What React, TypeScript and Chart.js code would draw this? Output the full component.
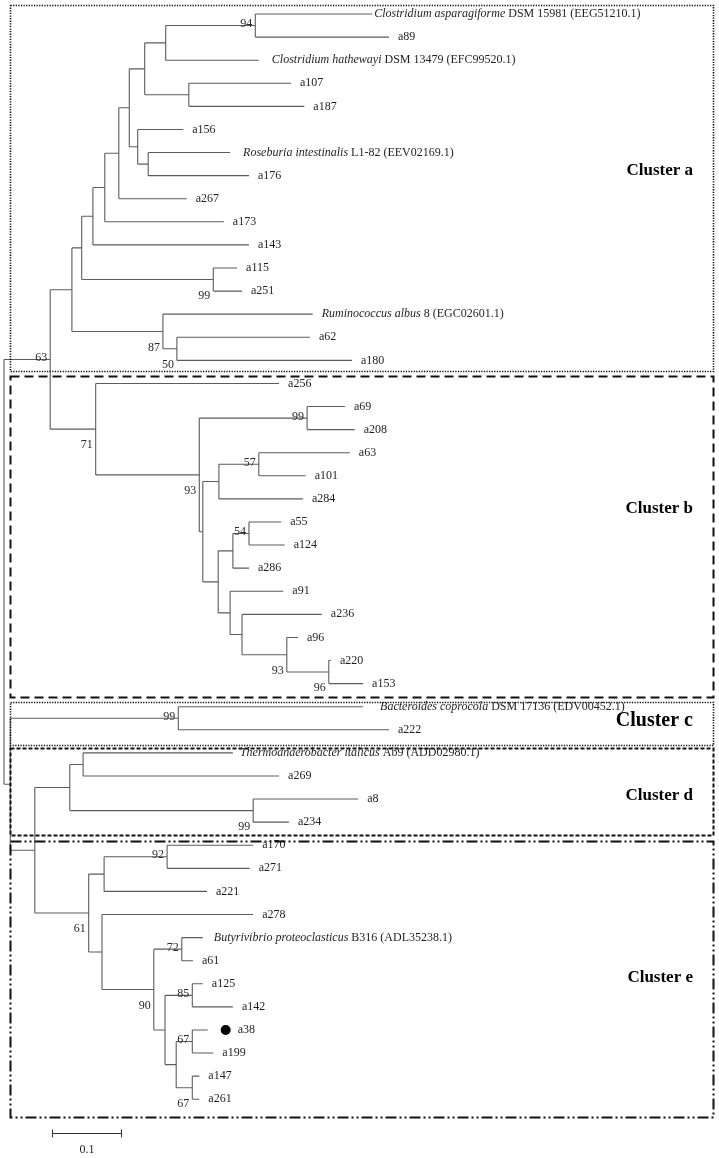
import React, { useEffect, useRef } from "react";
import { Chart, registerables } from "chart.js";

Chart.register(...registerables);

// ---------- DATA ----------
const leafNames: string[] = [
  "Clostridium asparagiforme DSM 15981 (EEG51210.1)", "a89", "Clostridium hathewayi DSM 13479 (EFC99520.1)",
  "a107", "a187", "a156", "Roseburia intestinalis L1-82 (EEV02169.1)", "a176", "a267", "a173", "a143",
  "a115", "a251", "Ruminococcus albus 8 (EGC02601.1)", "a62", "a180",
  "a256", "a69", "a208", "a63", "a101", "a284", "a55", "a124", "a286", "a91", "a236", "a96", "a220", "a153",
  "Bacteroides coprocola DSM 17136 (EDV00452.1)", "a222",
  "Thermoanaerobacter italicus Ab9 (ADD02980.1)", "a269", "a8", "a234",
  "a170", "a271", "a221", "a278", "Butyrivibrio proteoclasticus B316 (ADL35238.1)", "a61",
  "a125", "a142", "a38", "a199", "a147", "a261",
];

const italicParts: string[] = [
  "Clostridium asparagiforme", "Clostridium hathewayi", "Roseburia intestinalis", "Ruminococcus albus",
  "Bacteroides coprocola", "Thermoanaerobacter italicus", "Butyrivibrio proteoclasticus",
];

// distance from the root (substitutions per site)
const leafDepths: number[] = [
  0.526, 0.550, 0.364, 0.410, 0.429, 0.256, 0.323, 0.350, 0.261, 0.314, 0.350, 0.333, 0.340, 0.441, 0.437, 0.497,
  0.393, 0.487, 0.501, 0.494, 0.431, 0.427, 0.396, 0.401, 0.350, 0.399, 0.454, 0.420, 0.467, 0.513,
  0.513, 0.550,
  0.327, 0.393, 0.506, 0.407,
  0.356, 0.351, 0.290, 0.356, 0.284, 0.270, 0.284, 0.327, 0.291, 0.299, 0.279, 0.279,
];

// internal nodes, children listed before parents
const nodeIds: string[] = [
  "n94", "n166", "n189", "A1", "n148", "n138", "A2", "A3", "A4", "A5", "n213", "A6", "n177", "n163", "A7",
  "n307", "n259", "n219", "n249", "n233", "n329", "n287", "n242", "n230", "n218", "n203", "B93", "B71", "AB",
  "C99", "n83", "n253", "D", "n167", "n104", "n182", "n192a", "n192b", "n192c", "n176", "n165", "n154",
  "n102", "E61", "DE", "X", "root",
];
const nodeDepths: number[] = [
  0.359, 0.231, 0.264, 0.201, 0.206, 0.191, 0.179, 0.164, 0.144, 0.127, 0.299, 0.111, 0.247, 0.227, 0.097,
  0.433, 0.364, 0.307, 0.350, 0.327, 0.464, 0.404, 0.340, 0.323, 0.306, 0.284, 0.279, 0.131, 0.066,
  0.249, 0.113, 0.356, 0.094, 0.233, 0.143, 0.254, 0.269, 0.269, 0.269, 0.246, 0.230, 0.214,
  0.140, 0.121, 0.044, 0.009, 0.0,
];
const nodeChildren: string[][] = [
  ["Clostridium asparagiforme", "a89"], ["n94", "Clostridium hathewayi"], ["a107", "a187"], ["n166", "n189"],
  ["Roseburia intestinalis", "a176"], ["a156", "n148"], ["A1", "n138"], ["A2", "a267"], ["A3", "a173"],
  ["A4", "a143"], ["a115", "a251"], ["A5", "n213"], ["a62", "a180"], ["Ruminococcus albus", "n177"], ["A6", "n163"],
  ["a69", "a208"], ["a63", "a101"], ["n259", "a284"], ["a55", "a124"], ["n249", "a286"], ["a220", "a153"],
  ["a96", "n329"], ["a236", "n287"], ["a91", "n242"], ["n233", "n230"], ["n219", "n218"], ["n307", "n203"],
  ["a256", "B93"], ["A7", "B71"],
  ["Bacteroides coprocola", "a222"], ["Thermoanaerobacter italicus", "a269"], ["a8", "a234"], ["n83", "n253"],
  ["a170", "a271"], ["n167", "a221"], ["Butyrivibrio proteoclasticus", "a61"], ["a125", "a142"], ["a38", "a199"],
  ["a147", "a261"], ["n192b", "n192c"], ["n192a", "n176"], ["n182", "n165"], ["a278", "n154"], ["n104", "n102"],
  ["D", "E61"], ["C99", "DE"], ["AB", "X"],
];
// bootstrap support (null = not shown)
const nodeSupport: (number | null)[] = [
  94, null, null, null, null, null, null, null, null, null, 99, null, 50, 87, null,
  99, 57, null, 54, null, 96, 93, null, null, null, null, 93, 71, 63,
  99, null, 99, null, 92, null, 72, 85, 67, 67, null, null, 90,
  null, 61, null, null, null,
];

const clusterNames: string[] = ["Cluster a", "Cluster b", "Cluster c", "Cluster d", "Cluster e"];
const clusterFirstLeaf: string[] = ["Clostridium asparagiforme", "a256", "Bacteroides coprocola", "Thermoanaerobacter italicus", "a170"];
const clusterLastLeaf: string[] = ["a180", "a153", "a222", "a234", "a261"];
const clusterLabelRows: number[] = [6.8, 21.4, 30.6, 33.87, 41.75];

const markedLeaves: string[] = ["a38"];
const scaleBarLength = 0.1;
const scaleBarLabel = "0.1";

// ---------- STYLE ----------
const SERIF = '"Liberation Serif", "Times New Roman", Times, serif';
const BRANCH_COLOR = "#5c5c5c";
const TEXT_COLOR = "#1e1e1e";
const LABEL_GAP = 9;
const LABEL_GAP_SPECIAL: Record<string, number> = {
  "Clostridium asparagiforme": 2, "Clostridium hathewayi": 13, "Roseburia intestinalis": 13,
  "Bacteroides coprocola": 17, "Thermoanaerobacter italicus": 7, "Butyrivibrio proteoclasticus": 11,
};
const BOX_LEFT = 10.5;
const BOX_RIGHT = 713.5;
const BOX_PAD: number[][] = [[9, 11], [7, 13.5], [5, 15], [5, 13], [4, 18]];
const BOX_DASH: number[][] = [[1.3, 1.3], [9, 5], [1.3, 1.3], [4, 2], [11, 3, 2, 3, 2, 3]];
const BOX_WIDTH: number[] = [1.6, 2, 1.6, 2, 2];
const CLUSTER_FONT: number[] = [17, 17, 20, 17, 17];
const CLUSTER_RIGHT = 693;
const SCALE_START_PX = 52;
const SCALE_Y_PX = 1133;

// ---------- TREE HELPERS ----------
function leafIndex(key: string): number {
  return leafNames.findIndex((n) => n === key || n.startsWith(key + " "));
}

type Pos = { x: number; y: number };
function computePositions(): Record<string, Pos> {
  const pos: Record<string, Pos> = {};
  const get = (key: string): Pos => {
    if (pos[key]) return pos[key];
    const li = leafIndex(key);
    return { x: leafDepths[li], y: li };
  };
  nodeIds.forEach((id, i) => {
    const kids = nodeChildren[i].map(get);
    const ys = kids.map((k) => k.y);
    pos[id] = { x: nodeDepths[i], y: (Math.min(...ys) + Math.max(...ys)) / 2 };
  });
  return pos;
}

function buildBranchPoints(): { x: number; y: number }[] {
  const pos = computePositions();
  const get = (key: string): Pos => {
    if (pos[key]) return pos[key];
    const li = leafIndex(key);
    return { x: leafDepths[li], y: li };
  };
  const pts: { x: number; y: number }[] = [];
  const gap = { x: NaN, y: NaN };
  nodeIds.forEach((id, i) => {
    const p = pos[id];
    const kids = nodeChildren[i].map(get);
    const ys = kids.map((k) => k.y);
    pts.push({ x: p.x, y: Math.min(...ys) }, { x: p.x, y: Math.max(...ys) }, gap);
    kids.forEach((k) => {
      pts.push({ x: p.x, y: k.y }, { x: k.x, y: k.y }, gap);
    });
  });
  return pts;
}

const treeDecor = {
  id: "treeDecor",
  afterDatasetsDraw(chart: any) {
    const ctx: CanvasRenderingContext2D = chart.ctx;
    const xs = chart.scales.x;
    const ys = chart.scales.y;
    const pos = computePositions();
    ctx.save();

    // cluster boxes
    clusterNames.forEach((name, i) => {
      const top = Math.round(ys.getPixelForValue(leafIndex(clusterFirstLeaf[i])) - BOX_PAD[i][0]) + 0.5;
      const bottom = Math.round(ys.getPixelForValue(leafIndex(clusterLastLeaf[i])) + BOX_PAD[i][1]) + 0.5;
      ctx.setLineDash(BOX_DASH[i]);
      ctx.lineWidth = BOX_WIDTH[i];
      ctx.strokeStyle = "#111";
      ctx.strokeRect(BOX_LEFT, top, BOX_RIGHT - BOX_LEFT, bottom - top);
      ctx.setLineDash([]);
      ctx.fillStyle = "#000";
      ctx.font = `bold ${CLUSTER_FONT[i]}px ${SERIF}`;
      ctx.textAlign = "right";
      ctx.textBaseline = "middle";
      ctx.fillText(name, CLUSTER_RIGHT, ys.getPixelForValue(clusterLabelRows[i]));
    });

    // leaf labels
    ctx.textBaseline = "middle";
    ctx.textAlign = "left";
    leafNames.forEach((name, i) => {
      const tipX = xs.getPixelForValue(leafDepths[i]);
      const y = ys.getPixelForValue(i);
      const ital = italicParts.find((p) => name.startsWith(p));
      let x = tipX + (ital && LABEL_GAP_SPECIAL[ital] !== undefined ? LABEL_GAP_SPECIAL[ital] : LABEL_GAP);
      if (markedLeaves.includes(name)) {
        ctx.fillStyle = "#000";
        ctx.beginPath();
        ctx.arc(tipX + 18, y, 5, 0, Math.PI * 2);
        ctx.fill();
        x = tipX + 30;
      }
      ctx.fillStyle = TEXT_COLOR;
      if (ital) {
        ctx.font = `italic 12px ${SERIF}`;
        ctx.fillText(ital, x, y);
        const w = ctx.measureText(ital).width;
        ctx.font = `12px ${SERIF}`;
        ctx.fillText(name.slice(ital.length), x + w, y);
      } else {
        ctx.font = `12px ${SERIF}`;
        ctx.fillText(name, x, y);
      }
    });

    // bootstrap values
    const belowSet = new Set(["n213", "n177", "n163", "n329", "n287", "B93", "B71", "n253", "n192c", "n154", "E61"]);
    ctx.font = `12px ${SERIF}`;
    ctx.textAlign = "right";
    ctx.fillStyle = "#2a2a2a";
    nodeIds.forEach((id, i) => {
      const s = nodeSupport[i];
      if (s === null) return;
      const p = pos[id];
      const x = xs.getPixelForValue(p.x) - 3;
      const y = ys.getPixelForValue(p.y) + (belowSet.has(id) ? 16 : -1.5);
      ctx.fillText(String(s), x, y);
    });

    // scale bar
    const sx0 = SCALE_START_PX;
    const sx1 = sx0 + (xs.getPixelForValue(scaleBarLength) - xs.getPixelForValue(0));
    ctx.strokeStyle = "#333";
    ctx.lineWidth = 1;
    ctx.beginPath();
    ctx.moveTo(sx0, SCALE_Y_PX + 0.5);
    ctx.lineTo(sx1, SCALE_Y_PX + 0.5);
    ctx.moveTo(sx0 + 0.5, SCALE_Y_PX - 3.5);
    ctx.lineTo(sx0 + 0.5, SCALE_Y_PX + 4.5);
    ctx.moveTo(sx1 - 0.5, SCALE_Y_PX - 3.5);
    ctx.lineTo(sx1 - 0.5, SCALE_Y_PX + 4.5);
    ctx.stroke();
    ctx.textAlign = "center";
    ctx.fillStyle = TEXT_COLOR;
    ctx.fillText(scaleBarLabel, (sx0 + sx1) / 2, SCALE_Y_PX + 17);

    ctx.restore();
  },
};

export default function App() {
  const ref = useRef<HTMLCanvasElement | null>(null);
  useEffect(() => {
    if (!ref.current) return;
    const rowPx = 23.09;
    const firstRowPx = 14;
    const H = 1158;
    const pxPerUnit = 700;
    const rootPx = 4;
    const yMin = -firstRowPx / rowPx;
    const chart = new Chart(ref.current, {
      type: "scatter",
      data: {
        datasets: [
          {
            data: buildBranchPoints(),
            showLine: true,
            spanGaps: false,
            borderColor: BRANCH_COLOR,
            borderWidth: 1.1,
            pointRadius: 0,
            tension: 0,
          } as any,
        ],
      },
      options: {
        animation: false,
        responsive: true,
        maintainAspectRatio: false,
        events: [],
        layout: { padding: 0 },
        plugins: { legend: { display: false }, tooltip: { enabled: false } },
        scales: {
          x: { type: "linear", display: false, min: -rootPx / pxPerUnit, max: (719 - rootPx) / pxPerUnit },
          y: { type: "linear", display: false, reverse: true, min: yMin, max: yMin + H / rowPx },
        },
      },
      plugins: [treeDecor],
    });
    return () => chart.destroy();
  }, []);
  return (
    <div style={{ position: "absolute", left: 0, top: 0, width: 719, height: 1158, background: "#fff" }}>
      <canvas ref={ref} />
    </div>
  );
}
